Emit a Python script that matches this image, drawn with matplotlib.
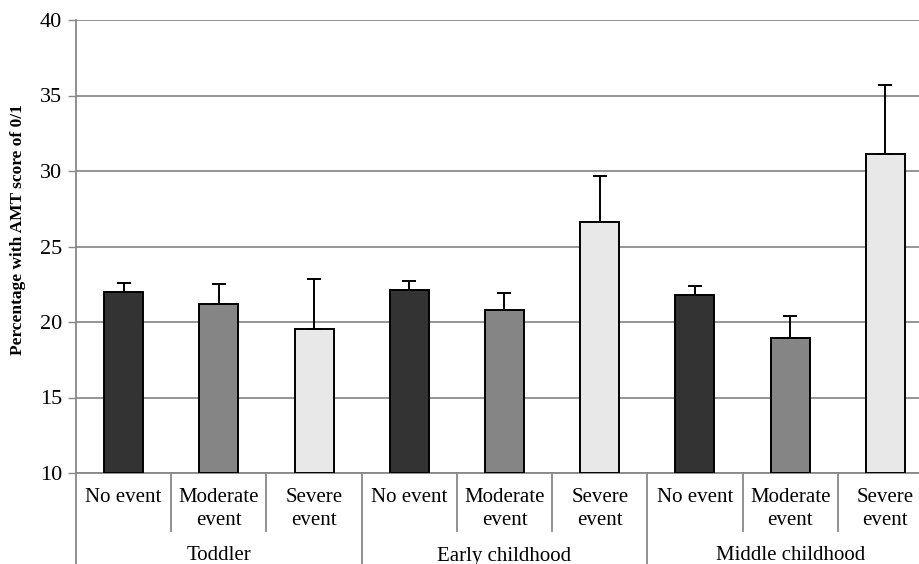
import matplotlib
matplotlib.use("Agg")
import matplotlib.pyplot as plt
import numpy as np

plt.rcParams['font.family'] = ['Liberation Serif', 'DejaVu Serif']

groups = ["Toddler", "Early childhood", "Middle childhood"]
categories = ["No event", "Moderate\nevent", "Severe\nevent"]
no_event = [22.0, 22.1, 21.8]
moderate = [21.2, 20.8, 18.95]
severe = [19.55, 26.6, 31.15]
err_no = [0.6, 0.6, 0.6]
err_mod = [1.3, 1.1, 1.45]
err_sev = [3.3, 3.05, 4.55]
yticks = [10, 15, 20, 25, 30, 35, 40]
ylabel = "Percentage with AMT score of 0/1"

colors = ["#333333", "#858585", "#e8e8e8"]

W, H = 920, 564
fig = plt.figure(figsize=(W / 100, H / 100), dpi=100)
left, right_px, top_px, bot_px = 76, 933, 20, 473
ax = fig.add_axes([left / W, (H - bot_px) / H, (right_px - left) / W, (bot_px - top_px) / H])

series = [no_event, moderate, severe]
errs = [err_no, err_mod, err_sev]
ncat = len(categories)
for s, (vals, e) in enumerate(zip(series, errs)):
    x = np.arange(len(groups)) * ncat + s + 0.5
    ax.bar(x, np.array(vals) - 10, bottom=10, width=0.41, color=colors[s],
           edgecolor="black", linewidth=1.4, zorder=3)
    ax.errorbar(x, vals, yerr=[np.zeros(len(vals)), e], fmt="none", ecolor="black",
                elinewidth=1.4, capsize=5, capthick=1.4, zorder=4)

ax.set_xlim(0, len(groups) * ncat)
ax.set_ylim(10, 40)
ax.set_yticks(yticks)
ax.set_yticklabels([str(t) for t in yticks], fontsize=16)
ax.tick_params(axis="y", length=6, width=1, color="#888888", pad=4)
ax.set_xticks([])
ax.yaxis.grid(True, color="#8c8c8c", linewidth=1.3, zorder=0)
ax.set_axisbelow(True)
for sp in ["top", "right"]:
    ax.spines[sp].set_visible(False)
ax.spines["bottom"].set_color("#888888")
ax.spines["bottom"].set_linewidth(1.3)
ax.spines["left"].set_visible(False)
fig.text(18 / W, 1 - 230 / H, ylabel, rotation=90, ha="center", va="center",
         fontsize=12.5, fontweight="bold")

axh = bot_px - top_px
trans = ax.get_xaxis_transform()
# y axis line extended to bottom
ax.plot([0, 0], [-(H - bot_px) / axh, 1], transform=trans, color="#888888",
        linewidth=1.3, clip_on=False, zorder=5)
# category separators
for i in range(1, len(groups) * ncat + 1):
    if i % ncat == 0:
        y0 = -(H - bot_px) / axh
    else:
        y0 = -58 / axh
    ax.plot([i, i], [y0, 0], transform=trans, color="#888888", linewidth=1.3,
            clip_on=False)

for g, gname in enumerate(groups):
    for c, cname in enumerate(categories):
        ax.text(g * ncat + c + 0.5, -15 / axh, cname, transform=trans, ha="center",
                va="top", fontsize=15, linespacing=1.3)
    ax.text(g * ncat + ncat / 2, -(556 - bot_px) / axh, gname, transform=trans,
            ha="center", va="center", fontsize=15)

fig.savefig("out.png", dpi=100)
